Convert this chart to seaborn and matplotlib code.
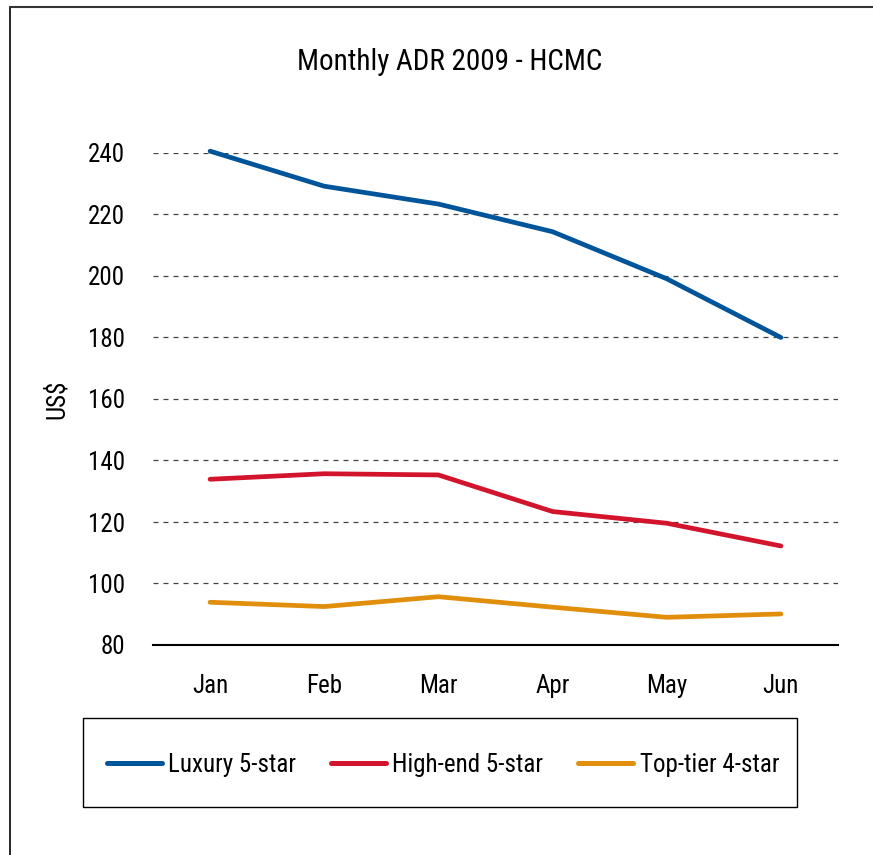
import pandas as pd
import seaborn as sns
import matplotlib.pyplot as plt
from matplotlib.lines import Line2D
from matplotlib.patches import Rectangle

months = ["Jan", "Feb", "Mar", "Apr", "May", "Jun"]
luxury = [240.6, 229.2, 223.4, 214.4, 199.1, 180.0]
high_end = [133.9, 135.7, 135.3, 123.4, 119.6, 112.2]
top_tier = [93.9, 92.5, 95.7, 92.3, 89.0, 90.1]
series_names = ["Luxury 5-star", "High-end 5-star", "Top-tier 4-star"]
colors = ["#00559A", "#D2142D", "#E08E0B"]

data = pd.DataFrame({
    "Month": months * 3,
    "ADR": luxury + high_end + top_tier,
    "Segment": [s for s in series_names for _ in months],
})
data["pos"] = data["Month"].map({m: i for i, m in enumerate(months)})

sns.set_style("white")
plt.rcParams["font.family"] = ["Liberation Sans Narrow", "DejaVu Sans Condensed", "Roboto Condensed", "Roboto", "DejaVu Sans"]
plt.rcParams["text.color"] = "black"
plt.rcParams["axes.labelcolor"] = "black"

fig = plt.figure(figsize=(8.73, 8.55), dpi=100)
ax = fig.add_axes([153 / 873, 1 - 645 / 855, 685 / 873, 492 / 855])

# the line chart
sns.lineplot(
    data=data,
    x="pos",
    y="ADR",
    hue="Segment",
    palette=colors,
    linewidth=3.4,
    ax=ax,
    legend=False,
)
for ln in ax.lines:
    ln.set_clip_on(False)
    ln.set_solid_capstyle("round")

ax.set_xlim(-0.5, 5.5)
ax.set_ylim(80, 240)
ax.set_yticks(range(80, 241, 20))
ax.set_xticks(range(len(months)))
ax.set_xticklabels(months)
ax.tick_params(axis="both", length=0, labelsize=18, colors="black")
ax.tick_params(axis="y", pad=20)
ax.tick_params(axis="x", pad=21)
ax.set_xlabel("")
ax.set_ylabel("US$", fontsize=18, labelpad=14)

for v in range(100, 241, 20):
    ax.axhline(v, color="#444444", linestyle=(0, (4, 4)), linewidth=0.9, zorder=0)

for side in ["top", "right", "left"]:
    ax.spines[side].set_visible(False)
ax.spines["bottom"].set_color("black")
ax.spines["bottom"].set_linewidth(1.5)

fig.text(450 / 873, 1 - 62 / 855, "Monthly ADR 2009 - HCMC", ha="center", va="center", fontsize=21)

# legend box below the chart
handles = [Line2D([], [], color=c, linewidth=3.6, solid_capstyle="round") for c in colors]
leg = fig.legend(
    handles,
    series_names,
    loc="center",
    bbox_to_anchor=(443 / 873, 1 - 765 / 855),
    ncol=3,
    fontsize=18,
    handlelength=2.2,
    handletextpad=0.25,
    columnspacing=1.4,
    borderaxespad=0,
    frameon=False,
)
fig.add_artist(Rectangle((83 / 873, 1 - 807 / 855), 714 / 873, 89 / 855, transform=fig.transFigure,
                         fill=False, edgecolor="black", linewidth=1.0))

# outer chart border (top and left edges show in the crop)
fig.add_artist(Line2D([10 / 873, 10 / 873], [0, 1 - 7 / 855], color="black", linewidth=1.2, transform=fig.transFigure))
fig.add_artist(Line2D([10 / 873, 1], [1 - 7 / 855, 1 - 7 / 855], color="#333333", linewidth=1.5, transform=fig.transFigure))

fig.savefig("out.png", dpi=100)
